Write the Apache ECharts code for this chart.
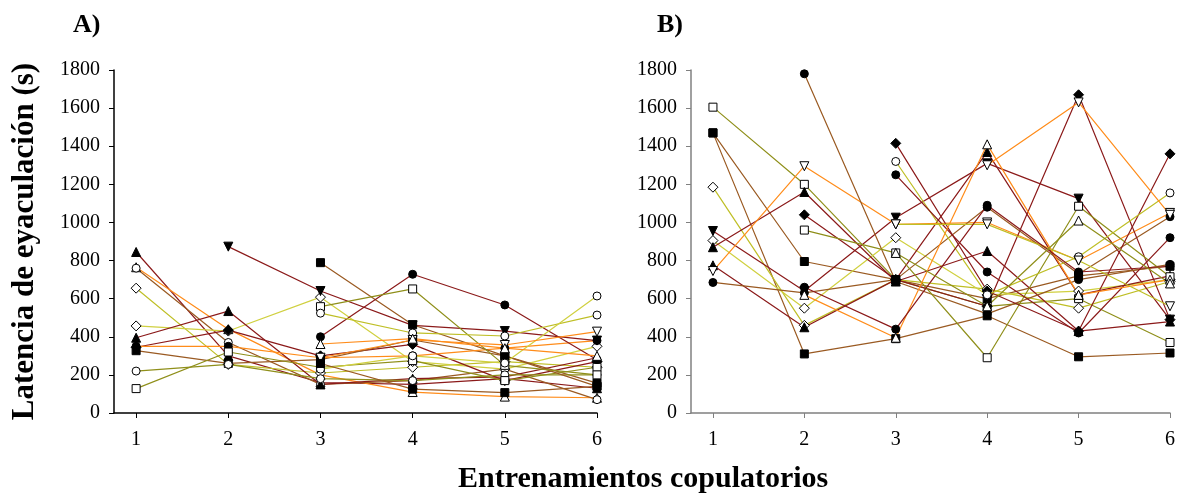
<!DOCTYPE html>
<html><head><meta charset="utf-8">
<script src="https://cdn.jsdelivr.net/npm/echarts@6/dist/echarts.min.js"></script>
<style>html,body{margin:0;padding:0;background:#fff}#c{width:1180px;height:495px}</style>
</head><body><div id="c"></div>
<script>
// ---- DATA ----
const categories = [1, 2, 3, 4, 5, 6];
const yTickLabels = [0, 200, 400, 600, 800, 1000, 1200, 1400, 1600, 1800];
const titleA = 'A)';
const titleB = 'B)';
const yName = 'Latencia de eyaculación (s)';
const xName = 'Entrenamientos copulatorios';

// Panel A (seconds), null = no value
const A01 = [845, 300, 160, 150, 180, 130];
const A02 = [765, 440, 200, 110, 86, 80];
const A03 = [760, 370, 150, 170, 230, 70];
const A04 = [655, 255, 210, 240, 270, 240];
const A05 = [457, 430, 608, 270, 230, 350];
const A06 = [395, 535, 150, 180, 190, 290];
const A07 = [345, 435, 300, 360, 170, 270];
const A08 = [327, 260, 280, 383, 300, 157];
const A09 = [350, 350, 290, 300, 340, 380];
const A10 = [220, 255, 180, 170, 200, 200];
const A11 = [128, 320, 240, 275, 170, 240];
const A12 = [null, 873, 640, 460, 430, 380];
const A13 = [null, null, 789, 463, 300, 140];
const A14 = [null, null, 400, 728, 567, 280];
const A15 = [null, null, 558, 651, 250, 200];
const A16 = [null, null, 524, 420, 404, 514];
const A17 = [null, null, 230, 300, 262, 614];
const A18 = [null, null, 290, 383, 357, 427];
const A19 = [null, null, 260, 125, 107, 140];
const A20 = [null, null, 362, 390, 340, 300];

// Panel B (seconds)
const B01 = [1605, 1200, 700, 560, 600, 370];
const B02 = [1470, 795, 700, 600, 720, 770];
const B03 = [1470, 310, 390, 510, 295, 315];
const B04 = [1185, 460, 700, 650, 550, 690];
const B05 = [955, 640, 1025, 1310, 1125, 490];
const B06 = [905, 550, 920, 620, 640, 700];
const B07 = [870, 1160, 690, 850, 430, 480];
const B08 = [775, 450, 700, 1370, 620, 720];
const B09 = [745, 1295, 990, 1000, 800, 1050];
const B10 = [685, 630, 700, 1080, 730, 1030];
const B11 = [null, 1780, 690, 520, 700, 780];
const B12 = [null, 1040, 700, 560, 1670, 490];
const B13 = [null, 960, 840, 290, 1085, 715];
const B14 = [null, null, 1415, 640, 430, 1360];
const B15 = [null, null, 1320, 620, 820, 1155];
const B16 = [null, null, 1250, 740, 420, 920];
const B17 = [null, 620, 395, 1410, 620, 700];
const B18 = [null, null, 990, 990, 800, 560];
const B19 = [null, 660, 440, 1090, 740, 770];
const B20 = [null, null, 840, 560, 1010, 680];
const B21 = [null, null, null, 1300, 1630, 1040];

// ---- STYLES ----
const C = {dr:'#8B1A1A', br:'#9A5A22', or:'#FF8C1A', ol:'#8F8F1A', yg:'#BFBF26', ly:'#D0D040'};
const stylesA = [
  ['triangle',1,C.dr],['triangle',0,C.or],['circle',0,C.br],['diamond',0,C.yg],['diamond',0,C.ly],
  ['triangle',1,C.dr],['diamond',1,C.dr],['rect',1,C.br],['circle',1,C.or],['circle',0,C.ol],
  ['rect',0,C.ol],['invtri',1,C.dr],['rect',1,C.br],['circle',1,C.dr],['rect',0,C.ol],
  ['circle',0,C.yg],['circle',0,C.ly],['invtri',0,C.or],['rect',1,C.br],['triangle',0,C.or]
];
const stylesB = [
  ['rect',0,C.ol],['rect',1,C.br],['rect',1,C.br],['diamond',0,C.yg],['invtri',1,C.dr],
  ['diamond',0,C.ly],['triangle',1,C.dr],['triangle',1,C.dr],['invtri',0,C.or],['circle',1,C.br],
  ['circle',1,C.br],['diamond',1,C.dr],['rect',0,C.ol],['diamond',1,C.dr],['circle',0,C.yg],
  ['circle',1,C.dr],['triangle',0,C.or],['invtri',0,C.yg],['circle',1,C.dr],['triangle',0,C.ol],
  ['invtri',0,C.or]
];
const dataA = [A01,A02,A03,A04,A05,A06,A07,A08,A09,A10,A11,A12,A13,A14,A15,A16,A17,A18,A19,A20];
const dataB = [B01,B02,B03,B04,B05,B06,B07,B08,B09,B10,B11,B12,B13,B14,B15,B16,B17,B18,B19,B20,B21];

const DIAMOND = 'path://M5,0 L10,5 L5,10 L0,5 Z';
function sym(s){ if(s==='diamond') return DIAMOND; if(s==='invtri') return 'triangle'; return s; }
function size(s){ if(s==='circle') return 8; if(s==='rect') return 8; if(s==='diamond') return 10; return 9; }

const series = [];
function build(arr, styles, idx){
  arr.forEach((vals, i) => {
    const st = styles[i];
    const pts = categories.map((c, k) => vals[k] == null ? [c, '-'] : [c, vals[k]]);
    series.push({type:'line', xAxisIndex:idx, yAxisIndex:idx, data:pts, showSymbol:false,
      lineStyle:{color:st[2], width:1.2}, itemStyle:{color:st[2]}, z:2, silent:true, connectNulls:false});
  });
  arr.forEach((vals, i) => {
    const st = styles[i];
    const pts = categories.map((c, k) => [c, vals[k]]).filter(p => p[1] != null);
    series.push({type:'scatter', xAxisIndex:idx, yAxisIndex:idx, data:pts,
      symbol:sym(st[0]), symbolSize:size(st[0]), symbolRotate: st[0]==='invtri'?180:0,
      itemStyle:{color: st[1] ? '#000' : '#fff', borderColor:'#000', borderWidth:1, opacity:1},
      z:3, silent:true});
  });
}
build(dataA, stylesA, 0);
build(dataB, stylesB, 1);

function xAx(idx, col){
  return {type:'value', gridIndex:idx, min:0.76, max:6,
    axisLine:{show:true, lineStyle:{color:col, width:1.5}},
    axisTick:{show:true, customValues:categories, length:5, lineStyle:{color:col}},
    axisLabel:{customValues:categories, color:'#000', fontFamily:'Liberation Serif', fontSize:20, margin:17},
    splitLine:{show:false}};
}
function yAx(idx, col){
  return {type:'value', gridIndex:idx, min:0, max:1800, interval:200,
    axisLine:{show:true, lineStyle:{color:col, width:1.5}},
    axisTick:{show:true, length:5, inside:false, lineStyle:{color:col}},
    axisLabel:{color:'#000', fontFamily:'Liberation Serif', fontSize:20, margin:14,
      formatter: v => String(yTickLabels[yTickLabels.indexOf(v)])},
    splitLine:{show:false}};
}
const yA = yAx(0, '#000');
yA.name = yName; yA.nameLocation = 'middle'; yA.nameGap = 74;
yA.nameTextStyle = {fontFamily:'Liberation Serif', fontWeight:'bold', fontSize:31, color:'#000'};

const option = {
  animation:false,
  backgroundColor:'#fff',
  grid:[{left:114, top:70, width:483, height:343},{left:691, top:70, width:479, height:343}],
  xAxis:[xAx(0,'#000'), xAx(1,'#808080')],
  yAxis:[yA, yAx(1,'#808080')],
  title:[
    {text:titleA, left:68, top:7, textStyle:{fontFamily:'Liberation Serif', fontWeight:'bold', fontSize:26, color:'#000'}},
    {text:titleB, left:652, top:7, textStyle:{fontFamily:'Liberation Serif', fontWeight:'bold', fontSize:26, color:'#000'}},
    {text:xName, left:453, top:459, textStyle:{fontFamily:'Liberation Serif', fontWeight:'bold', fontSize:30, color:'#000'}}
  ],
  series: series
};
echarts.init(document.getElementById('c')).setOption(option);
</script></body></html>
